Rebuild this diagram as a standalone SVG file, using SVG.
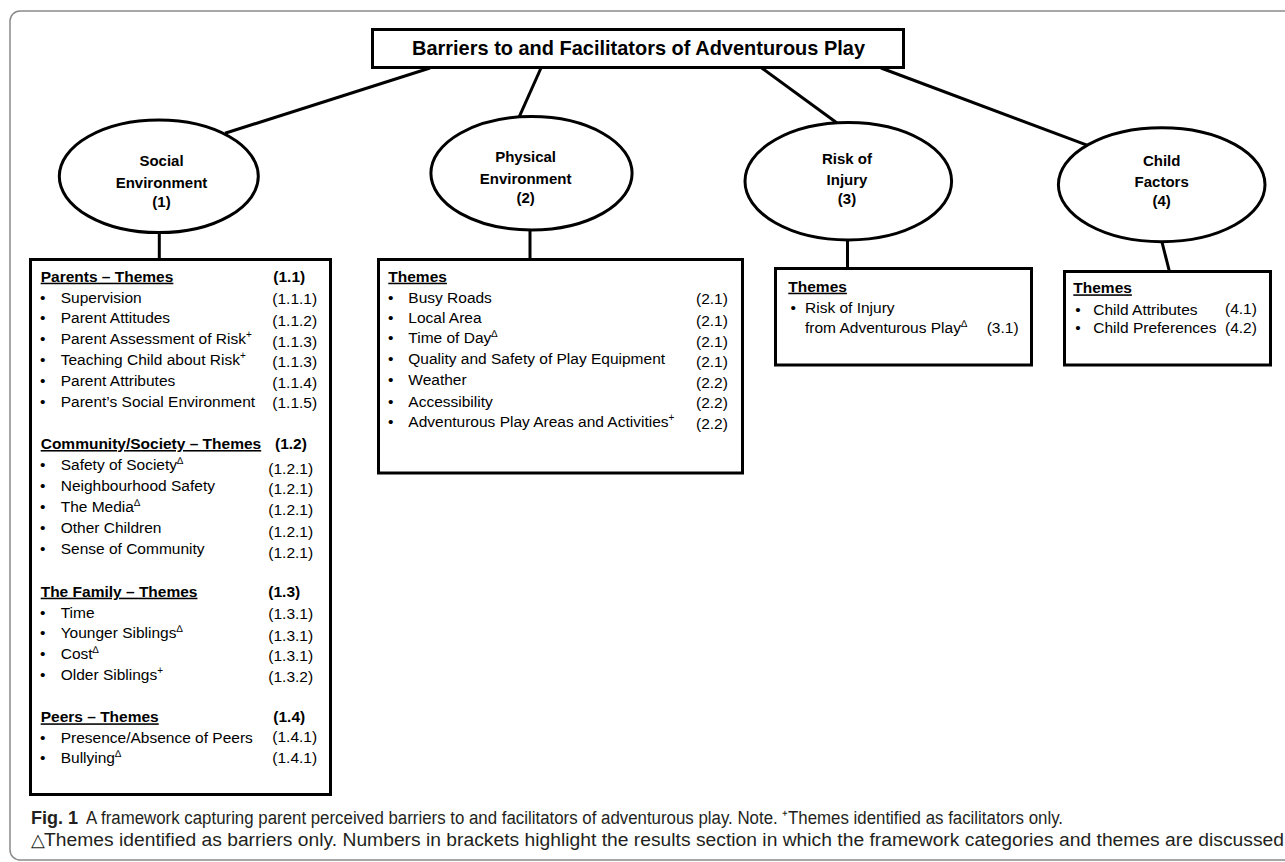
<svg xmlns="http://www.w3.org/2000/svg" width="1285" height="862" viewBox="0 0 1285 862">
<style>
.bx{fill:#fff;stroke:#000;stroke-width:3}
.cn{stroke:#000;stroke-width:3;fill:none}
text{font-family:"Liberation Sans",Arial,sans-serif;fill:#000}
.t{font-size:15.5px}
.h{font-size:15.5px;font-weight:bold}
.u{text-decoration:underline}
.e{font-size:15px;font-weight:bold;text-anchor:middle}
.ti{font-size:20.5px;font-weight:bold;text-anchor:middle}
.sp{font-size:10px}
.cap{font-size:18px;fill:#231f20}
</style>
<rect x="10" y="11" width="1300" height="849" rx="10" fill="#fff" stroke="#8a8a8a" stroke-width="1.5"/>
<g id="connectors">
<line class="cn" x1="430" y1="68" x2="225" y2="133.3"/>
<line class="cn" x1="541" y1="68" x2="519.3" y2="116.7"/>
<line class="cn" x1="761.7" y1="68" x2="836.7" y2="122.7"/>
<line class="cn" x1="881" y1="68" x2="1088.3" y2="145.7"/>
<line class="cn" x1="159.3" y1="232" x2="159.3" y2="259"/>
<line class="cn" x1="530" y1="229" x2="530" y2="259"/>
<line class="cn" x1="847.5" y1="239" x2="847.5" y2="268"/>
<line class="cn" x1="1161.7" y1="241" x2="1169.3" y2="271"/>
</g>
<g id="title">
<rect class="bx" x="372.5" y="29.5" width="531" height="38"/>
<text class="ti" x="638.5" y="55" textLength="453" lengthAdjust="spacingAndGlyphs">Barriers to and Facilitators of Adventurous Play</text>
</g>
<g id="node-social">
<ellipse class="bx" cx="158.8" cy="176.3" rx="99.5" ry="56.3"/>
<text class="e" x="161.5" y="165.7">Social</text>
<text class="e" x="161.5" y="187.7">Environment</text>
<text class="e" x="161.5" y="206.7">(1)</text>
</g>
<g id="node-physical">
<ellipse class="bx" cx="531.5" cy="173.3" rx="100.6" ry="56.7"/>
<text class="e" x="525.6" y="162.3">Physical</text>
<text class="e" x="525.6" y="184.3">Environment</text>
<text class="e" x="525.6" y="203.3">(2)</text>
</g>
<g id="node-risk">
<ellipse class="bx" cx="848.3" cy="181.3" rx="103.3" ry="58.7"/>
<text class="e" x="847" y="164">Risk of</text>
<text class="e" x="847" y="185">Injury</text>
<text class="e" x="847" y="204.3">(3)</text>
</g>
<g id="node-child">
<ellipse class="bx" cx="1161.7" cy="184.7" rx="103.3" ry="57"/>
<text class="e" x="1161.7" y="165.7">Child</text>
<text class="e" x="1161.7" y="186.7">Factors</text>
<text class="e" x="1161.7" y="206">(4)</text>
</g>
<g id="box-social">
<rect class="bx" x="30.5" y="259.5" width="300" height="535"/>
<text class="h u" x="40.7" y="281.7">Parents – Themes</text>
<text class="h" x="273.3" y="281.7">(1.1)</text>
<text class="t" y="302.7"><tspan x="40">•</tspan><tspan x="60.7">Supervision</tspan></text>
<text class="t" y="323.3"><tspan x="40">•</tspan><tspan x="60.7">Parent Attitudes</tspan></text>
<text class="t" y="344"><tspan x="40">•</tspan><tspan x="60.7">Parent Assessment of Risk</tspan><tspan class="sp" dy="-6">+</tspan></text>
<text class="t" y="365"><tspan x="40">•</tspan><tspan x="60.7">Teaching Child about Risk</tspan><tspan class="sp" dy="-6">+</tspan></text>
<text class="t" y="386"><tspan x="40">•</tspan><tspan x="60.7">Parent Attributes</tspan></text>
<text class="t" y="406.7"><tspan x="40">•</tspan><tspan x="60.7">Parent’s Social Environment</tspan></text>
<text class="t" x="272.3" y="304.3">(1.1.1)</text>
<text class="t" x="272.3" y="326">(1.1.2)</text>
<text class="t" x="272.3" y="346.7">(1.1.3)</text>
<text class="t" x="272.3" y="366.7">(1.1.3)</text>
<text class="t" x="272.3" y="388.3">(1.1.4)</text>
<text class="t" x="272.3" y="408.3">(1.1.5)</text>
<text class="h u" x="40.7" y="449">Community/Society – Themes</text>
<text class="h" x="275" y="449">(1.2)</text>
<text class="t" y="470"><tspan x="40">•</tspan><tspan x="60.7">Safety of Society</tspan><tspan class="sp" dy="-6">∆</tspan></text>
<text class="t" y="490.7"><tspan x="40">•</tspan><tspan x="60.7">Neighbourhood Safety</tspan></text>
<text class="t" y="511.7"><tspan x="40">•</tspan><tspan x="60.7">The Media</tspan><tspan class="sp" dy="-6">∆</tspan></text>
<text class="t" y="533.3"><tspan x="40">•</tspan><tspan x="60.7">Other Children</tspan></text>
<text class="t" y="554"><tspan x="40">•</tspan><tspan x="60.7">Sense of Community</tspan></text>
<text class="t" x="268.3" y="474">(1.2.1)</text>
<text class="t" x="268.3" y="494.3">(1.2.1)</text>
<text class="t" x="268.3" y="515">(1.2.1)</text>
<text class="t" x="268.3" y="536.7">(1.2.1)</text>
<text class="t" x="268.3" y="558.3">(1.2.1)</text>
<text class="h u" x="40.7" y="596.7">The Family – Themes</text>
<text class="h" x="268.3" y="596.7">(1.3)</text>
<text class="t" y="617.7"><tspan x="40">•</tspan><tspan x="60.7">Time</tspan></text>
<text class="t" y="638.3"><tspan x="40">•</tspan><tspan x="60.7">Younger Siblings</tspan><tspan class="sp" dy="-6">∆</tspan></text>
<text class="t" y="659"><tspan x="40">•</tspan><tspan x="60.7">Cost</tspan><tspan class="sp" dy="-6">∆</tspan></text>
<text class="t" y="680"><tspan x="40">•</tspan><tspan x="60.7">Older Siblings</tspan><tspan class="sp" dy="-6">+</tspan></text>
<text class="t" x="268.3" y="619.3">(1.3.1)</text>
<text class="t" x="268.3" y="640.7">(1.3.1)</text>
<text class="t" x="268.3" y="660.7">(1.3.1)</text>
<text class="t" x="268.3" y="681.7">(1.3.2)</text>
<text class="h u" x="40.7" y="722.3">Peers – Themes</text>
<text class="h" x="273.3" y="722.3">(1.4)</text>
<text class="t" y="742.7"><tspan x="40">•</tspan><tspan x="60.7">Presence/Absence of Peers</tspan></text>
<text class="t" y="763.3"><tspan x="40">•</tspan><tspan x="60.7">Bullying</tspan><tspan class="sp" dy="-6">∆</tspan></text>
<text class="t" x="272.3" y="741.7">(1.4.1)</text>
<text class="t" x="272.3" y="763.3">(1.4.1)</text>
</g>
<g id="box-physical">
<rect class="bx" x="378.5" y="259.5" width="364" height="213.5"/>
<text class="h u" x="388.3" y="281.7">Themes</text>
<text class="t" y="302.7"><tspan x="388">•</tspan><tspan x="408.3">Busy Roads</tspan></text>
<text class="t" y="323.3"><tspan x="388">•</tspan><tspan x="408.3">Local Area</tspan></text>
<text class="t" y="343.3"><tspan x="388">•</tspan><tspan x="408.3">Time of Day</tspan><tspan class="sp" dy="-6">∆</tspan></text>
<text class="t" y="364.3"><tspan x="388">•</tspan><tspan x="408.3">Quality and Safety of Play Equipment</tspan></text>
<text class="t" y="385"><tspan x="388">•</tspan><tspan x="408.3">Weather</tspan></text>
<text class="t" y="406.7"><tspan x="388">•</tspan><tspan x="408.3">Accessibility</tspan></text>
<text class="t" y="426.7"><tspan x="388">•</tspan><tspan x="408.3">Adventurous Play Areas and Activities</tspan><tspan class="sp" dy="-6">+</tspan></text>
<text class="t" x="696" y="304">(2.1)</text>
<text class="t" x="696" y="326">(2.1)</text>
<text class="t" x="696" y="346.7">(2.1)</text>
<text class="t" x="696" y="366.7">(2.1)</text>
<text class="t" x="696" y="388.3">(2.2)</text>
<text class="t" x="696" y="408.3">(2.2)</text>
<text class="t" x="696" y="429.3">(2.2)</text>
</g>
<g id="box-risk">
<rect class="bx" x="775.5" y="268.5" width="256" height="96.5"/>
<text class="h u" x="788.3" y="291.7">Themes</text>
<text class="t" y="313.3"><tspan x="790.6">•</tspan><tspan x="805">Risk of Injury</tspan></text>
<text class="t" x="805" y="333.3">from Adventurous Play<tspan class="sp" dy="-6">∆</tspan></text>
<text class="t" x="986.7" y="333.3">(3.1)</text>
</g>
<g id="box-child">
<rect class="bx" x="1064.5" y="271.5" width="206" height="93.5"/>
<text class="h u" x="1073.3" y="293.3">Themes</text>
<text class="t" y="315"><tspan x="1075.3">•</tspan><tspan x="1093.3">Child Attributes</tspan></text>
<text class="t" y="333.3"><tspan x="1075.3">•</tspan><tspan x="1093.3">Child Preferences</tspan></text>
<text class="t" x="1225" y="314">(4.1)</text>
<text class="t" x="1225" y="333.3">(4.2)</text>
</g>
<g id="caption">
<text class="cap" x="31" y="824" font-weight="bold">Fig. 1</text>
<text class="cap" x="86" y="824" textLength="977" lengthAdjust="spacingAndGlyphs">A framework capturing parent perceived barriers to and facilitators of adventurous play. Note. ⁺Themes identified as facilitators only.</text>
<text class="cap" x="31" y="846">△</text>
<text class="cap" x="44" y="846" textLength="1240" lengthAdjust="spacingAndGlyphs">Themes identified as barriers only. Numbers in brackets highlight the results section in which the framework categories and themes are discussed</text>
</g>
</svg>
